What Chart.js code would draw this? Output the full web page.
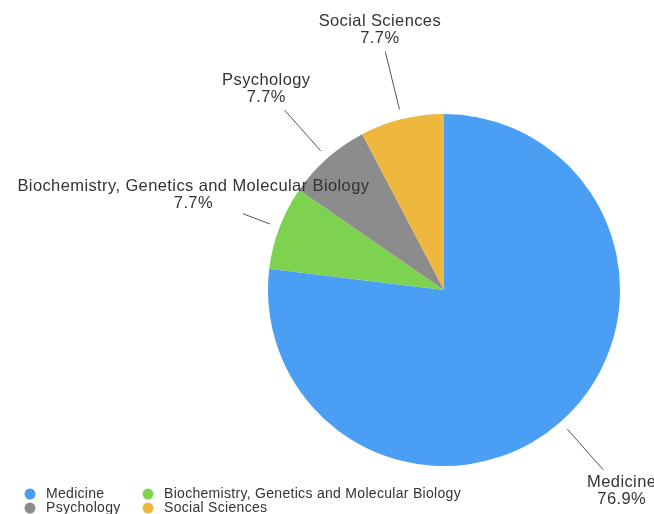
<!DOCTYPE html>
<html>
<head>
<meta charset="utf-8">
<script src="https://cdn.jsdelivr.net/npm/chart.js@4/dist/chart.umd.min.js"></script>
<style>
  html, body { margin: 0; padding: 0; background: #fff; }
  #wrap { width: 654px; height: 514px; position: relative; }
</style>
</head>
<body>
<div id="wrap"><canvas id="c"></canvas></div>
<script>
// Subject areas and document counts
const categories = ["Medicine", "Biochemistry, Genetics and Molecular Biology", "Psychology", "Social Sciences"];
const counts = [10, 1, 1, 1];
const percentLabels = ["76.9%", "7.7%", "7.7%", "7.7%"];
const colors = ["#4A9EF4", "#7DD34F", "#8C8C8C", "#EEB83E"];

const FONT = '"Liberation Sans", Arial, sans-serif';

// Outside labels with leader lines
const outsideLabels = {
  id: 'outsideLabels',
  afterDatasetsDraw(chart) {
    const ctx = chart.ctx;
    const meta = chart.getDatasetMeta(0);
    ctx.save();
    ctx.font = '16.5px ' + FONT;
    ctx.letterSpacing = '0.4px';
    ctx.textAlign = 'center';
    ctx.textBaseline = 'middle';
    const lineH = 17;
    meta.data.forEach((arc, i) => {
      const mid = (arc.startAngle + arc.endAngle) / 2;
      const dx = Math.cos(mid), dy = Math.sin(mid);
      const r = arc.outerRadius;
      const cx = arc.x + dx * (r + 92);
      const cy = arc.y + dy * (r + 92);
      const w = Math.max(ctx.measureText(categories[i]).width, ctx.measureText(percentLabels[i]).width);
      const halfW = w / 2, halfH = lineH;
      const t = Math.min(Math.abs(dx) > 1e-6 ? halfW / Math.abs(dx) : Infinity,
                         Math.abs(dy) > 1e-6 ? halfH / Math.abs(dy) : Infinity) + 5;
      const x0 = arc.x + dx * (r + 10), y0 = arc.y + dy * (r + 10);
      const x1 = cx - dx * t, y1 = cy - dy * t;
      ctx.strokeStyle = '#555';
      ctx.lineWidth = 1;
      ctx.beginPath();
      ctx.moveTo(x0, y0);
      ctx.lineTo(x1, y1);
      ctx.stroke();
      ctx.fillStyle = '#333';
      ctx.fillText(categories[i], cx, cy - lineH / 2);
      ctx.fillText(percentLabels[i], cx, cy + lineH / 2);
    });
    ctx.restore();
  }
};

// Two-column legend at the bottom left
const gridLegend = {
  id: 'gridLegend',
  afterDraw(chart) {
    const ctx = chart.ctx;
    ctx.save();
    ctx.font = '14px ' + FONT;
    ctx.letterSpacing = '0.3px';
    ctx.textBaseline = 'middle';
    ctx.textAlign = 'left';
    const colX = [30, 148];
    const rowY = [494, 508];
    categories.forEach((name, i) => {
      const x = colX[i % 2], y = rowY[Math.floor(i / 2)];
      ctx.fillStyle = colors[i];
      ctx.beginPath();
      ctx.arc(x, y, 5.5, 0, Math.PI * 2);
      ctx.fill();
      ctx.fillStyle = '#333';
      ctx.fillText(name, x + 16, y);
    });
    ctx.restore();
  }
};

new Chart(document.getElementById('c'), {
  type: 'pie',
  data: {
    labels: categories,
    datasets: [{
      data: counts,
      backgroundColor: colors,
      borderWidth: 0
    }]
  },
  options: {
    responsive: true,
    maintainAspectRatio: false,
    animation: false,
    layout: { padding: { left: 268, right: 34, top: 114, bottom: 48 } },
    plugins: {
      legend: { display: false },
      tooltip: { enabled: false }
    }
  },
  plugins: [outsideLabels, gridLegend]
});
</script>
</body>
</html>
